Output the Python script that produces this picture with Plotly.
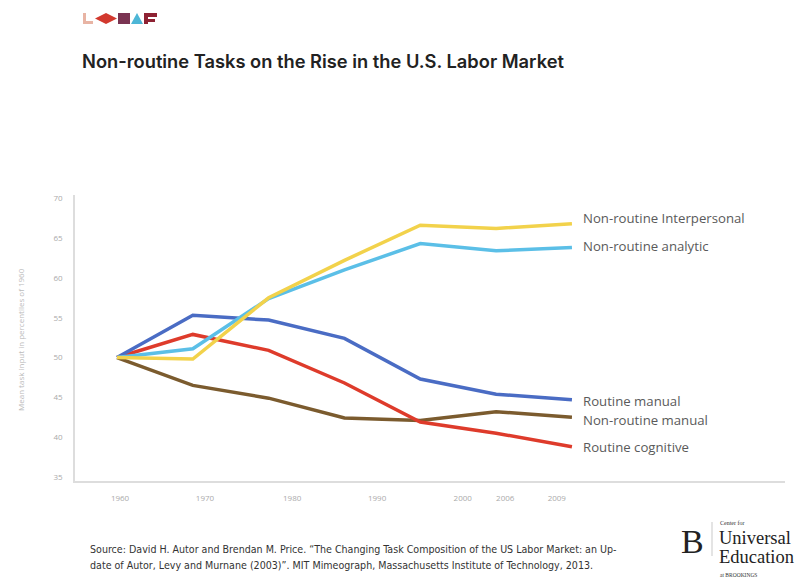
import plotly.graph_objects as go

# ---- data ----
years = ["1960", "1970", "1980", "1990", "2000", "2006", "2009"]
series_names = ["Non-routine Interpersonal", "Non-routine analytic", "Routine manual",
                "Non-routine manual", "Routine cognitive"]
nr_interpersonal = [50.0, 49.8, 57.5, 62.2, 66.6, 66.2, 66.8]
nr_analytic = [50.0, 51.1, 57.4, 61.0, 64.3, 63.4, 63.8]
routine_manual = [50.0, 55.3, 54.7, 52.4, 47.3, 45.4, 44.7]
nr_manual = [50.0, 46.5, 44.9, 42.4, 42.1, 43.2, 42.5]
routine_cognitive = [50.0, 52.9, 50.9, 46.8, 41.9, 40.5, 38.8]
y_ticks = [35, 40, 45, 50, 55, 60, 65, 70]
# tick label placement (as in the original graphic, labels are offset from the points)
x_tick_positions = [0.04, 1.16, 2.31, 3.43, 4.56, 5.12, 5.80]

values = [nr_interpersonal, nr_analytic, routine_manual, nr_manual, routine_cognitive]
colors = ["#F2D24B", "#5BBFE7", "#4A6CC4", "#7B5B2E", "#DE3B2B"]
label_yshift = [6, 2, -1, -3, 0]

W, H = 795, 583
L, R, T, B = 75, 10, 195, 102


def xp(px):
    return (px - L) / (W - L - R)


def yp(py):
    return (H - B - py) / (H - T - B)


x_idx = list(range(len(years)))
fig = go.Figure()
draw_order = [3, 4, 2, 1, 0]
for i in draw_order:
    fig.add_trace(go.Scatter(x=x_idx, y=values[i], mode="lines", name=series_names[i],
                             line=dict(color=colors[i], width=3.5), hoverinfo="skip"))

annotations = []
for i, name in enumerate(series_names):
    annotations.append(dict(x=x_idx[-1], y=values[i][-1], xref="x", yref="y", text=name,
                            showarrow=False, xanchor="left", yanchor="middle", xshift=9,
                            yshift=label_yshift[i],
                            font=dict(family="Open Sans", size=13.2, color="#5a5a5a")))

# title
annotations.append(dict(x=xp(80), y=yp(61), xref="paper", yref="paper",
                        text="Non-routine Tasks on the Rise in the U.S. Labor Market",
                        showarrow=False, xanchor="left", yanchor="middle",
                        font=dict(family="Inter", size=18.3, color="#222222", weight=600)))
# y axis title
annotations.append(dict(x=xp(20), y=yp(340), xref="paper", yref="paper",
                        text="Mean task input in percentiles of 1960", textangle=-90,
                        showarrow=False, xanchor="center", yanchor="middle",
                        font=dict(family="Open Sans", size=8, color="#bbbbbb")))
# source
src1 = ("Source: David H. Autor and Brendan M. Price. \u201cThe Changing Task Composition of the US "
        "Labor Market: an Up-")
src2 = ("date of Autor, Levy and Murnane (2003)\u201d. MIT Mimeograph, Massachusetts Institute of "
        "Technology, 2013.")
for txt, py in [(src1, 549), (src2, 565)]:
    annotations.append(dict(x=xp(88), y=yp(py), xref="paper", yref="paper", text=txt,
                            showarrow=False, xanchor="left", yanchor="middle",
                            font=dict(family="DejaVu Sans Condensed", size=10.6, color="#333333")))
# Brookings logo
annotations.append(dict(x=xp(692), y=yp(541), xref="paper", yref="paper", text="B",
                        showarrow=False, xanchor="center", yanchor="middle",
                        font=dict(family="Liberation Serif", size=34, color="#222222")))
annotations.append(dict(x=xp(718), y=yp(523), xref="paper", yref="paper", text="Center for",
                        showarrow=False, xanchor="left", yanchor="middle",
                        font=dict(family="Liberation Serif", size=6, color="#333333")))
annotations.append(dict(x=xp(717), y=yp(538), xref="paper", yref="paper", text="Universal",
                        showarrow=False, xanchor="left", yanchor="middle",
                        font=dict(family="Liberation Serif", size=18.5, color="#222222")))
annotations.append(dict(x=xp(717), y=yp(557), xref="paper", yref="paper", text="Education",
                        showarrow=False, xanchor="left", yanchor="middle",
                        font=dict(family="Liberation Serif", size=18.5, color="#222222")))
annotations.append(dict(x=xp(718), y=yp(575), xref="paper", yref="paper", text="at BROOKINGS",
                        showarrow=False, xanchor="left", yanchor="middle",
                        font=dict(family="Liberation Serif", size=5.5, color="#333333")))

shapes = []
# Brookings divider
shapes.append(dict(type="line", xref="paper", yref="paper", x0=xp(712), x1=xp(712),
                   y0=yp(522), y1=yp(556), line=dict(color="#bbbbbb", width=0.8)))


def path(points):
    s = "M " + " L ".join(f"{xp(a)},{yp(b)}" for a, b in points) + " Z"
    return s


logo = [
    ([(83, 13), (86, 13), (86, 21), (93, 21), (93, 24), (83, 24)], "#E8B4A4"),
    ([(95, 18.5), (106, 13), (117, 18.5), (106, 24)], "#D2392E"),
    ([(118, 13), (130, 13), (130, 24), (118, 24)], "#7A3452"),
    ([(131, 24), (137, 13), (143, 24)], "#4DB6D6"),
    ([(144, 13), (157, 13), (157, 17), (148, 17), (148, 19), (155, 19), (155, 22), (148, 22),
      (148, 24), (144, 24)], "#8E2233"),
]
for pts, c in logo:
    shapes.append(dict(type="path", xref="paper", yref="paper", path=path(pts),
                       fillcolor=c, line=dict(width=0)))

fig.update_layout(
    width=W, height=H,
    margin=dict(l=L, r=R, t=T, b=B),
    paper_bgcolor="white", plot_bgcolor="white",
    showlegend=False,
    annotations=annotations,
    shapes=shapes,
    xaxis=dict(range=[-0.554, 8.81], tickvals=x_tick_positions, ticktext=years,
               showgrid=False, zeroline=False, showline=True, linecolor="#dddddd",
               linewidth=2, ticks="", ticklabelstandoff=8,
               tickfont=dict(family="Open Sans", size=8, color="#aaaaaa")),
    yaxis=dict(range=[34.5, 70.4], tickvals=y_ticks, showgrid=False, zeroline=False,
               showline=True, linecolor="#dddddd", linewidth=1.5, ticks="",
               ticklabelstandoff=9,
               tickfont=dict(family="Open Sans", size=8, color="#aaaaaa")),
)

fig.write_html("out.html", config={"displayModeBar": False},
               post_script="document.body.style.margin='0';document.body.style.overflow='hidden';")
